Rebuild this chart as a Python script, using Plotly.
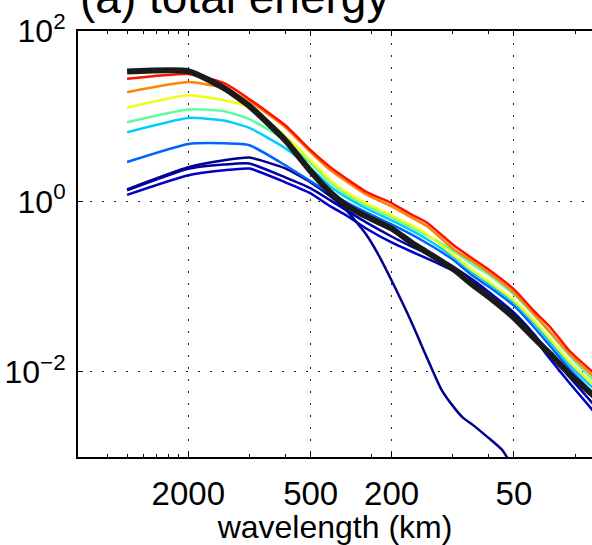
import numpy as np
import plotly.graph_objects as go

# wavelength sample points (km)
wavelength_km = [4000, 2000, 1333.3, 1000, 666.7, 500, 400, 333.3, 266.7, 200,
                 160, 133.3, 100, 80, 66.7, 50, 40, 33.3, 26.7, 20]

# log10(total energy)
log_E_black = [1.524, 1.529, 1.329, 1.118, 0.718, 0.353, 0.106, -0.047, -0.176, -0.318,
               -0.482, -0.600, -0.788, -0.976, -1.118, -1.365, -1.600, -1.788, -2.024, -2.294]
log_E_red = [1.439, 1.494, 1.388, 1.200, 0.894, 0.600, 0.400, 0.265, 0.112, -0.019,
             -0.153, -0.253, -0.506, -0.671, -0.800, -1.033, -1.282, -1.471, -1.753, -2.024]
log_E_orange = [1.282, 1.400, 1.329, 1.176, 0.871, 0.576, 0.365, 0.235, 0.082, -0.059,
                -0.188, -0.294, -0.553, -0.706, -0.835, -1.071, -1.318, -1.529, -1.788, -2.071]
log_E_yellow = [1.102, 1.247, 1.188, 1.106, 0.765, 0.482, 0.247, 0.106, -0.024, -0.165,
                -0.282, -0.388, -0.624, -0.812, -0.941, -1.165, -1.400, -1.612, -1.882, -2.165]
log_E_green = [0.929, 1.079, 1.059, 0.965, 0.718, 0.447, 0.224, 0.082, -0.047, -0.188,
               -0.306, -0.400, -0.576, -0.741, -0.859, -1.094, -1.329, -1.541, -1.812, -2.118]
log_E_cyan = [0.812, 0.980, 0.949, 0.862, 0.624, 0.388, 0.176, 0.047, -0.082, -0.224,
              -0.341, -0.447, -0.647, -0.835, -0.965, -1.188, -1.424, -1.647, -1.918, -2.212]
log_E_blue = [0.462, 0.674, 0.682, 0.659, 0.424, 0.235, 0.094, -0.012, -0.129, -0.271,
              -0.388, -0.494, -0.682, -0.871, -1.000, -1.224, -1.471, -1.694, -1.965, -2.271]
log_E_darkblue1 = [0.129, 0.382, 0.432, 0.444, 0.282, 0.153, 0.012, -0.106, -0.247, -0.412,
                   -0.529, -0.612, -0.765, -0.918, -1.059, -1.306, -1.553, -1.788, -2.059, -2.400]
log_E_darkblue2 = [0.076, 0.306, 0.365, 0.385, 0.224, 0.094, -0.059, -0.165, -0.318, -0.482,
                   -0.588, -0.671, -0.812, -0.953, -1.094, -1.341, -1.600, -1.847, -2.129, -2.482]

# the navy series (steep drop) has its own, denser sample points
wavelength_navy_km = [4000, 2000, 1333.3, 1000, 666.7, 500, 400, 333.3, 266.7, 235.3, 200,
                      160, 133.3, 114.3, 100, 88.9, 80, 66.7, 57.1, 50]
log_E_navy = [0.141, 0.400, 0.482, 0.514, 0.388, 0.224, 0.059, -0.106, -0.388, -0.600, -0.929,
              -1.412, -1.847, -2.200, -2.400, -2.541, -2.620, -2.776, -2.918, -3.141]

x_tick_vals = [2000, 500, 200, 50]
x_tick_text = ["2000", "500", "200", "50"]
x_minor_vals = [5000, 4000, 3333.3, 2857.1, 2500, 2222.2, 1000, 666.7, 250, 100, 66.7, 25]
y_tick_vals = [1e-2, 1e0, 1e2]
y_tick_text = ["10<sup>\u22122</sup>", "10<sup>0</sup>", "10<sup>2</sup>"]

series = [
    ("navy", "#00008A", 2.5, wavelength_navy_km, log_E_navy),
    ("darkblue2", "#0000C8", 2.5, wavelength_km, log_E_darkblue2),
    ("darkblue1", "#0000A8", 2.5, wavelength_km, log_E_darkblue1),
    ("blue", "#0062FF", 2.5, wavelength_km, log_E_blue),
    ("cyan", "#00CCFF", 2.5, wavelength_km, log_E_cyan),
    ("green", "#5CFF9E", 2.5, wavelength_km, log_E_green),
    ("yellow", "#EEFF12", 2.5, wavelength_km, log_E_yellow),
    ("orange", "#FF8400", 2.5, wavelength_km, log_E_orange),
    ("red", "#FF1000", 2.5, wavelength_km, log_E_red),
    ("black", "#1A1A1A", 6, wavelength_km, log_E_black),
]

FONT = "Liberation Sans, Arial, Helvetica, sans-serif"

fig = go.Figure()
for name, color, width, xs, logs in series:
    fig.add_trace(go.Scatter(
        x=xs,
        y=10 ** np.array(logs),
        mode="lines",
        name=name,
        line=dict(color=color, width=width, shape="spline", smoothing=0.5),
        showlegend=False,
    ))

grid_dash = "2px,10px"
fig.update_layout(
    width=592, height=545,
    margin=dict(l=78, r=0, t=31, b=88, autoexpand=False),
    paper_bgcolor="white", plot_bgcolor="white",
    font=dict(family=FONT, size=33, color="black"),
    xaxis=dict(
        type="log",
        range=[np.log10(6975), np.log10(20.66)],
        tickmode="array", tickvals=x_tick_vals, ticktext=x_tick_text,
        ticks="inside", ticklen=5, tickwidth=1, tickcolor="black",
        showline=True, linecolor="black", linewidth=2, mirror="ticks",
        showgrid=True, gridcolor="#222222", gridwidth=1, griddash=grid_dash,
        zeroline=False, automargin=False,
        ticklabelstandoff=6,
        tickfont=dict(size=33),
        minor=dict(tickmode="array", tickvals=x_minor_vals, ticks="inside",
                   ticklen=3, tickwidth=1, tickcolor="black", showgrid=False),
        title=dict(text="wavelength (km)", font=dict(size=32), standoff=0),
    ),
    yaxis=dict(
        type="log",
        range=[-3, 2],
        tickmode="array", tickvals=y_tick_vals, ticktext=y_tick_text,
        ticks="inside", ticklen=5, tickwidth=1, tickcolor="black",
        showline=True, linecolor="black", linewidth=2, mirror=False,
        showgrid=True, gridcolor="#222222", gridwidth=1, griddash=grid_dash,
        zeroline=False, automargin=False,
        ticklabelstandoff=4,
        tickfont=dict(size=32),
    ),
    annotations=[dict(
        text="(a) total energy", xref="paper", yref="paper",
        x=0, y=1, xanchor="left", yanchor="bottom", xshift=0, yshift=6,
        showarrow=False, font=dict(size=46, family=FONT, color="black"),
    )],
)

fig.write_html("out.html")
